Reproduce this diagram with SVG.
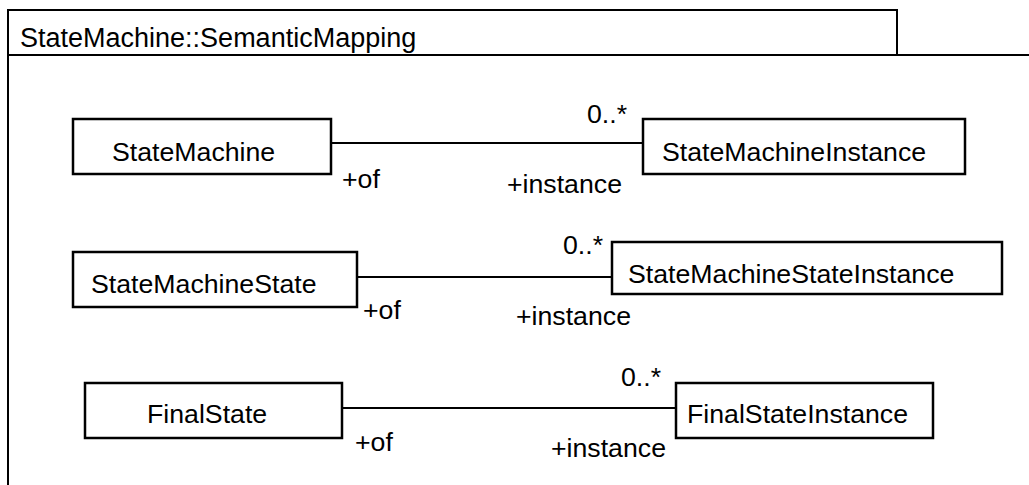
<svg xmlns="http://www.w3.org/2000/svg" width="1029" height="485" viewBox="0 0 1029 485">
<style>
text{font-family:"Liberation Sans",Arial,sans-serif;font-size:26.7px;fill:#000}
.box{fill:#fff;stroke:#000;stroke-width:2.5}
.ln{stroke:#000;stroke-width:2;fill:none}
</style>
<rect width="1029" height="485" fill="#fff"/>
<g id="frame">
<path class="ln" d="M8,485 V10 H897 V55 M8,55 H1029"/>
<text x="20" y="47" style="font-size:27px">StateMachine::SemanticMapping</text>
</g>
<g id="connectors">
<line class="ln" x1="331" y1="143" x2="643" y2="143"/>
<text x="342" y="188">+of</text>
<text x="507" y="193">+instance</text>
<text x="587" y="123">0..*</text>
<line class="ln" x1="357" y1="277" x2="612" y2="277"/>
<text x="363" y="319">+of</text>
<text x="516" y="325">+instance</text>
<text x="563" y="254">0..*</text>
<line class="ln" x1="342" y1="408" x2="676" y2="408"/>
<text x="355" y="451">+of</text>
<text x="551" y="457">+instance</text>
<text x="621" y="386">0..*</text>
</g>
<g id="StateMachine">
<rect class="box" x="73" y="119" width="258" height="55"/>
<text x="112" y="161">StateMachine</text>
</g>
<g id="StateMachineInstance">
<rect class="box" x="643" y="119" width="322" height="55"/>
<text x="662" y="161">StateMachineInstance</text>
</g>
<g id="StateMachineState">
<rect class="box" x="73" y="252" width="284" height="55"/>
<text x="91" y="293">StateMachineState</text>
</g>
<g id="StateMachineStateInstance">
<rect class="box" x="612" y="242" width="390" height="52"/>
<text x="628" y="283">StateMachineStateInstance</text>
</g>
<g id="FinalState">
<rect class="box" x="85" y="383" width="257" height="55"/>
<text x="147" y="423">FinalState</text>
</g>
<g id="FinalStateInstance">
<rect class="box" x="676" y="383" width="257" height="55"/>
<text x="687" y="423">FinalStateInstance</text>
</g>
</svg>
